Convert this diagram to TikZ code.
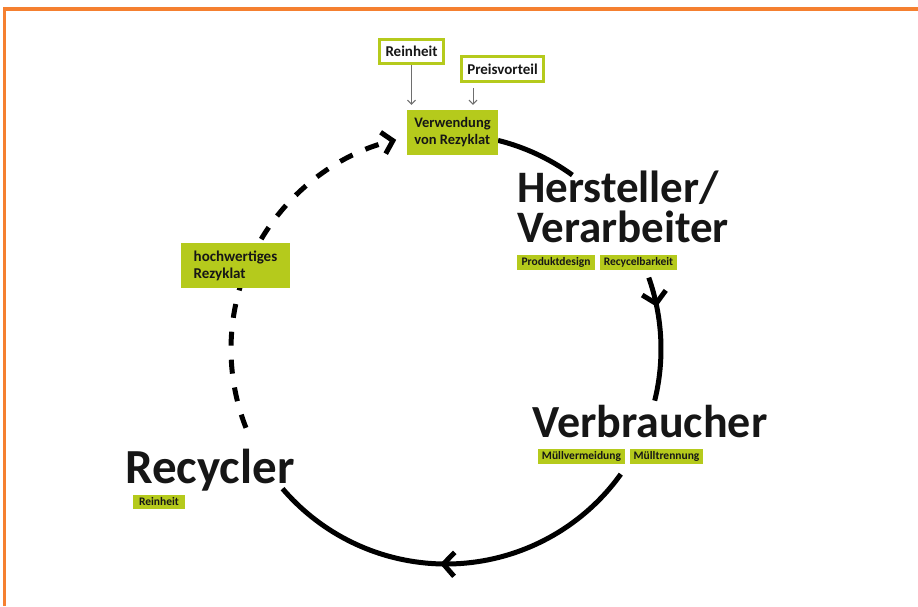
\documentclass[tikz,border=0pt]{standalone}
\usepackage{fontspec}
\setmainfont{Carlito}
\usetikzlibrary{arrows.meta,decorations.markings,calc}
\definecolor{limeA}{RGB}{181,202,28}
\definecolor{txtA}{RGB}{22,22,22}
\definecolor{orangeA}{RGB}{245,128,48}
\definecolor{grayA}{RGB}{110,110,110}
\begin{document}
\begin{tikzpicture}[x=1pt,y=1pt,
  tagbox/.style={fill=limeA, font=\bfseries\fontsize{11.5}{12}\selectfont, text=txtA, inner sep=0pt, minimum height=15pt},
  limebox/.style={fill=limeA, font=\bfseries\fontsize{15}{17}\selectfont, text=txtA, align=left, inner sep=0pt},
  outbox/.style={draw=limeA, line width=2.6pt, fill=white, font=\bfseries\fontsize{15}{17}\selectfont, text=txtA, inner sep=0pt},
  bigtext/.style={font=\bfseries\fontsize{45}{40}\selectfont, text=txtA, align=left, inner sep=0pt, anchor=base west},
  cyc/.style={line width=5pt, draw=black},
  chev/.style={postaction={decorate}, decoration={markings, mark=at position #1 with {\arrow{Straight Barb[length=11pt,width=24pt,line width=5pt]}}}},
  grayarr/.style={draw=grayA, line width=1pt, -{Straight Barb[length=4pt,width=8pt]}, shorten >=5pt}]
\useasboundingbox (0,0) rectangle (918,-606);
% frame
\draw[orangeA, line width=3.5pt] (4.5,-606) -- (4.5,-9) -- (918,-9);
% circle geometry
\coordinate (C) at (446,-349);
\coordinate (a1) at ($(C)+(76:215)$);
\coordinate (a2) at ($(C)+(19.4:215)$);
\coordinate (a3) at ($(C)+(-35.6:215)$);
\coordinate (a4) at ($(C)+(201.5:215)$);
% cycle arcs
\draw[cyc] (a1) arc[start angle=76, end angle=54, radius=215];
\draw[cyc, chev=0.243] (a2) arc[start angle=19.4, end angle=-13.9, radius=215];
\draw[cyc, chev=0.539] (a3) arc[start angle=-35.6, end angle=-139.5, radius=215];
\draw[cyc, dash pattern=on 14pt off 14pt, -{Straight Barb[length=10pt,width=22pt,line width=5pt]}]
  (a4) arc[start angle=201.5, end angle=103.4, radius=215];
% top boxes
\node[outbox, minimum width=64pt, minimum height=24.5pt] (rein) at (411.5,-51.5) {Reinheit};
\node[outbox, minimum width=82pt, minimum height=25pt] (preis) at (502.5,-69) {Preisvorteil};
\node[limebox, font=\bfseries\fontsize{14.5}{17}\selectfont, minimum width=91pt, minimum height=45pt] (verw) at (452.5,-132.5) {Verwendung\\von Rezyklat};
\draw[grayarr] (rein.south) -- (rein.south |- verw.north);
\draw[grayarr] (preis.south) ++(-29.5,-5) coordinate (pa) -- (pa |- verw.north);
% Hersteller
\node[bigtext] (herst) at (517,-242) {Hersteller/\\Verarbeiter};
\node[tagbox, minimum width=78pt] (prod) at (556,-262) {Produktdesign};
\node[tagbox, minimum width=77pt] (recb) at (638.5,-262) {Recycelbarkeit};
% Verbraucher
\node[bigtext, font=\bfseries\fontsize{46}{40}\selectfont] (verb) at (532,-437) {Verbraucher};
\node[tagbox, minimum width=87pt] (mv) at (581.5,-456) {Müllvermeidung};
\node[tagbox, minimum width=73pt] (mt) at (666.5,-456) {Mülltrennung};
% Recycler
\node[bigtext, font=\bfseries\fontsize{49}{40}\selectfont] (recy) at (125,-483) {Recycler};
\node[tagbox, minimum width=52pt, minimum height=14pt] (rrein) at (159,-501.5) {Reinheit};
% hochwertiges
\node[limebox, minimum width=109pt, minimum height=45pt] (hoch) at (235.5,-265.5) {hochwertiges\\Rezyklat};
\end{tikzpicture}
\end{document}
